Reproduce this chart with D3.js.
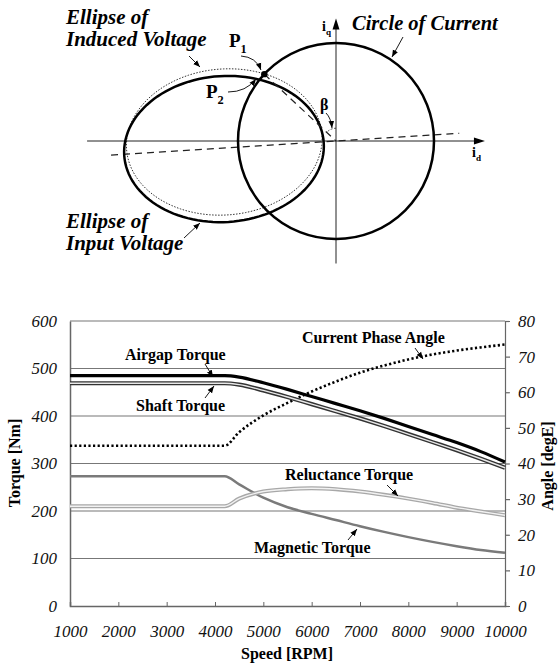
<!DOCTYPE html>
<html>
<head>
<meta charset="utf-8">
<script src="https://cdn.jsdelivr.net/npm/d3@7"></script>
<style>
  body { margin: 0; background: #fff; }
  svg { display: block; }
  svg text { font-family: "Liberation Serif", "Times New Roman", Times, "DejaVu Serif", serif !important; }
</style>
</head>
<body>
<svg id="chart" width="559" height="666"></svg>
<script>
// ---- chart data ----
const speeds = [1000, 4200, 4500, 5000, 5500, 6000, 6500, 7000, 7500, 8000, 8500, 9000, 9500, 10000];
const airgapTorque = [485, 485, 482, 470, 456, 441, 426, 411, 395, 378, 361, 344, 325, 303];
const shaftTorque = [469, 469, 466, 454, 440, 425, 410, 395, 379, 362, 345, 328, 310, 291];
const reluctanceTorque = [210, 210, 226, 241, 246, 248, 246, 241, 234, 226, 217, 207, 199, 191];
const magneticTorque = [273, 273, 256, 228, 208, 194, 181, 168, 156, 145, 135, 126, 118, 112];
const phaseAngle = [45, 45, 48.8, 53.5, 57, 60.2, 63, 65.5, 67.5, 69.2, 70.6, 71.7, 72.6, 73.4];

const speedTicks = [1000, 2000, 3000, 4000, 5000, 6000, 7000, 8000, 9000, 10000];
const torqueTicks = [0, 100, 200, 300, 400, 500, 600];
const angleTicks = [0, 10, 20, 30, 40, 50, 60, 70, 80];

// ---- diagram data (units of rated current) ----
const currentCircle = [0, 0, 1];                  // cx, cy, r
const inputEllipse = [-1.143, -0.082, 1.02, 0.745]; // cx, cy, a, b
const inducedEllipse = [-1.14, -0.01, 1.0, 0.745];
const ellipseTilt = 3.6;                          // deg
const pointAngles = [137, 140];                   // P1, P2 on the circle, deg
const idRange = [-2.54, 1.52];
const iqRange = [-1.25, 1.25];

const svg = d3.select("#chart");

// 箭头标记
svg.append("defs").append("marker")
    .attr("id", "tip")
    .attr("markerUnits", "userSpaceOnUse")
    .attr("viewBox", "0 -5 10 10")
    .attr("refX", 10).attr("refY", 0)
    .attr("markerWidth", 7).attr("markerHeight", 7)
    .attr("orient", "auto")
    .append("path")
    .attr("d", "M0,-4L10,0L0,4Z")
    .attr("fill", "#000");

// ================= top diagram =================
const dx = d3.scaleLinear().domain([0, 1]).range([336, 434]);
const dy = d3.scaleLinear().domain([0, 1]).range([141, 43]);
const diag = svg.append("g");

const ellipsePts = (e, tiltDeg) => {
    const t = tiltDeg * Math.PI / 180;
    return d3.range(0, 361, 3).map(k => {
        const a = k * Math.PI / 180;
        const u = e[2] * Math.cos(a), v = e[3] * Math.sin(a);
        return [e[0] + u * Math.cos(t) - v * Math.sin(t), e[1] + u * Math.sin(t) + v * Math.cos(t)];
    });
};
const diagLine = d3.line().x(d => dx(d[0])).y(d => dy(d[1]));

// axes
diag.append("line")
    .attr("x1", dx(idRange[0])).attr("y1", dy(0))
    .attr("x2", dx(idRange[1]) - 8).attr("y2", dy(0))
    .attr("stroke", "#222").attr("stroke-width", 1);
diag.append("path")
    .attr("d", `M${dx(idRange[1])},${dy(0)}l-11,-3.5l0,7Z`).attr("fill", "#000");
diag.append("line")
    .attr("x1", dx(0)).attr("y1", dy(iqRange[0]))
    .attr("x2", dx(0)).attr("y2", dy(iqRange[1]) + 8)
    .attr("stroke", "#222").attr("stroke-width", 1);
diag.append("path")
    .attr("d", `M${dx(0)},${dy(iqRange[1])}l-3.5,11l7,0Z`).attr("fill", "#000");

// dashed axis of the ellipse
const tr = ellipseTilt * Math.PI / 180;
diag.append("line")
    .attr("x1", dx(-2.3 * Math.cos(tr))).attr("y1", dy(-2.3 * Math.sin(tr)))
    .attr("x2", dx(1.26 * Math.cos(tr))).attr("y2", dy(1.26 * Math.sin(tr)))
    .attr("stroke", "#222").attr("stroke-width", 1.2).attr("stroke-dasharray", "7,5");

// induced voltage ellipse (dotted)
diag.append("path")
    .attr("d", diagLine(ellipsePts(inducedEllipse, ellipseTilt + 1)) + "Z")
    .attr("fill", "none").attr("stroke", "#333").attr("stroke-width", 1)
    .attr("stroke-dasharray", "1.5,1.5");

// input voltage ellipse
diag.append("path")
    .attr("d", diagLine(ellipsePts(inputEllipse, ellipseTilt)) + "Z")
    .attr("fill", "none").attr("stroke", "#000").attr("stroke-width", 2.5);

// circle of current
diag.append("circle")
    .attr("cx", dx(currentCircle[0])).attr("cy", dy(currentCircle[1]))
    .attr("r", dx(currentCircle[2]) - dx(0))
    .attr("fill", "none").attr("stroke", "#000").attr("stroke-width", 2.5);

// current vector and points
const pts = pointAngles.map(a => [Math.cos(a * Math.PI / 180), Math.sin(a * Math.PI / 180)]);
diag.append("line")
    .attr("x1", dx(pts[0][0])).attr("y1", dy(pts[0][1]))
    .attr("x2", dx(0)).attr("y2", dy(0))
    .attr("stroke", "#222").attr("stroke-width", 1.2).attr("stroke-dasharray", "7,5");
diag.append("circle")
    .attr("cx", dx(pts[0][0])).attr("cy", dy(pts[0][1])).attr("r", 3.2).attr("fill", "#000");

// beta arc
const br = 0.13;
diag.append("path")
    .attr("d", diagLine(d3.range(90, pointAngles[0] + 1, 4).map(a => [br * Math.cos(a * Math.PI / 180), br * Math.sin(a * Math.PI / 180)])))
    .attr("fill", "none").attr("stroke", "#222").attr("stroke-width", 0.8).attr("stroke-dasharray", "2,1.5");

// labels
const bi = { "font-weight": "bold", "font-style": "italic", "font-size": "21px" };
const addText = (g, x, y, str, attrs) => {
    const t = g.append("text").attr("x", x).attr("y", y).text(str);
    Object.entries(attrs).forEach(([k, v]) => t.attr(k, v));
    return t;
};
addText(diag, 66, 24, "Ellipse of", bi);
addText(diag, 66, 46, "Induced Voltage", bi);
addText(diag, 352, 30, "Circle of Current", { ...bi, "font-size": "20.5px" });
addText(diag, 66, 228, "Ellipse of", bi);
addText(diag, 66, 250, "Input Voltage", bi);

const sub = (x, y, main, s, size) => {
    const t = diag.append("text").attr("x", x).attr("y", y)
        .attr("font-weight", "bold").attr("font-size", size + "px");
    t.append("tspan").text(main);
    t.append("tspan").attr("dy", size * 0.3).attr("font-size", (size * 0.65) + "px").text(s);
};
sub(229, 47, "P", "1", 19);
sub(206, 98, "P", "2", 19);
sub(322, 31, "i", "q", 14);
sub(472, 157, "i", "d", 14);
addText(diag, 320, 110, "β", { "font-weight": "bold", "font-size": "16px" });

const arrowPaths = [
    "M189,56L200,67",
    "M403,37L392,57",
    "M184,238L200,223",
    "M241,56Q256,57 261,70",
    "M228,92Q246,92 256,79",
    "M326,113Q331,118 332,128"
];
diag.selectAll(".arr").data(arrowPaths).join("path")
    .attr("d", d => d)
    .attr("fill", "none").attr("stroke", "#000").attr("stroke-width", 0.9)
    .attr("marker-end", "url(#tip)");

// ================= bottom chart =================
const x = d3.scaleLinear().domain([1000, 10000]).range([70, 505]);
const yL = d3.scaleLinear().domain([0, 600]).range([606, 321]);
const yR = d3.scaleLinear().domain([0, 80]).range([606, 321]);
const g = svg.append("g");

// gridlines
g.selectAll(".grid").data(torqueTicks.filter(d => d > 0 && d < 600)).join("line")
    .attr("x1", x(1000)).attr("x2", x(10000))
    .attr("y1", d => yL(d)).attr("y2", d => yL(d))
    .attr("stroke", "#777").attr("stroke-width", 1.2);
g.append("line")
    .attr("x1", x(1000)).attr("x2", x(10000)).attr("y1", yL(600)).attr("y2", yL(600))
    .attr("stroke", "#777").attr("stroke-width", 1.2);

// axes
const tickFont = sel => sel.selectAll("text")
    .attr("font-style", "italic").attr("font-size", "17px").attr("fill", "#111");

const xAxis = g.append("g").attr("transform", `translate(0,${yL(0)})`)
    .call(d3.axisBottom(x).tickValues(speedTicks).tickSize(-4).tickPadding(19).tickFormat(d3.format("d")));
xAxis.call(tickFont);
xAxis.selectAll("line, path").attr("stroke", "#666").attr("stroke-width", 1.5);
xAxis.selectAll(".tick line").attr("stroke-width", 1);

const yAxisL = g.append("g").attr("transform", `translate(${x(1000)},0)`)
    .call(d3.axisLeft(yL).tickValues(torqueTicks).tickSize(0).tickPadding(13));
yAxisL.call(tickFont);
yAxisL.selectAll("path").attr("stroke", "#666").attr("stroke-width", 1.5);

const yAxisR = g.append("g").attr("transform", `translate(${x(10000)},0)`)
    .call(d3.axisRight(yR).tickValues(angleTicks).tickSize(5).tickPadding(8));
yAxisR.call(tickFont);
yAxisR.selectAll("line, path").attr("stroke", "#666").attr("stroke-width", 1.2);

// axis titles
const bold = { "font-weight": "bold", "font-size": "16px", "text-anchor": "middle" };
addText(g, 287, 659, "Speed [RPM]", bold);
addText(g, 0, 0, "Torque [Nm]", bold).attr("transform", "translate(20,463) rotate(-90)");
addText(g, 0, 0, "Angle [degE]", bold).attr("transform", "translate(553,466) rotate(-90)");

// series
const torqueLine = vals => d3.line().curve(d3.curveMonotoneX)
    .x((d, i) => x(speeds[i])).y(d => yL(d))(vals);
const angleLine = d3.line().curve(d3.curveMonotoneX)
    .x((d, i) => x(speeds[i])).y(d => yR(d));

g.append("path").attr("d", torqueLine(magneticTorque))
    .attr("fill", "none").attr("stroke", "#7a7a7a").attr("stroke-width", 2.5);
g.append("path").attr("d", torqueLine(reluctanceTorque))
    .attr("fill", "none").attr("stroke", "#a8a8a8").attr("stroke-width", 4);
g.append("path").attr("d", torqueLine(reluctanceTorque))
    .attr("fill", "none").attr("stroke", "#f2f2f2").attr("stroke-width", 1.4);
g.append("path").attr("d", angleLine(phaseAngle))
    .attr("fill", "none").attr("stroke", "#000").attr("stroke-width", 2.6)
    .attr("stroke-dasharray", "2.2,2.4");
g.append("path").attr("d", torqueLine(shaftTorque))
    .attr("fill", "none").attr("stroke", "#333").attr("stroke-width", 4.2);
g.append("path").attr("d", torqueLine(shaftTorque))
    .attr("fill", "none").attr("stroke", "#e8e8e8").attr("stroke-width", 1.4);
g.append("path").attr("d", torqueLine(airgapTorque))
    .attr("fill", "none").attr("stroke", "#000").attr("stroke-width", 3.2);

// series labels
const lb = { "font-weight": "bold", "font-size": "16px" };
addText(g, 125, 360, "Airgap Torque", lb);
addText(g, 136, 411, "Shaft Torque", lb);
addText(g, 302, 343, "Current Phase Angle", lb);
addText(g, 285, 480, "Reluctance Torque", lb);
addText(g, 254, 553, "Magnetic Torque", lb);

const labelArrows = [
    "M205,364L213,377",
    "M205,398L214,386",
    "M415,348L423,359",
    "M387,485L398,496",
    "M348,540L357,529"
];
g.selectAll(".larr").data(labelArrows).join("path")
    .attr("d", d => d)
    .attr("fill", "none").attr("stroke", "#000").attr("stroke-width", 0.9)
    .attr("marker-end", "url(#tip)");
</script>
</body>
</html>
